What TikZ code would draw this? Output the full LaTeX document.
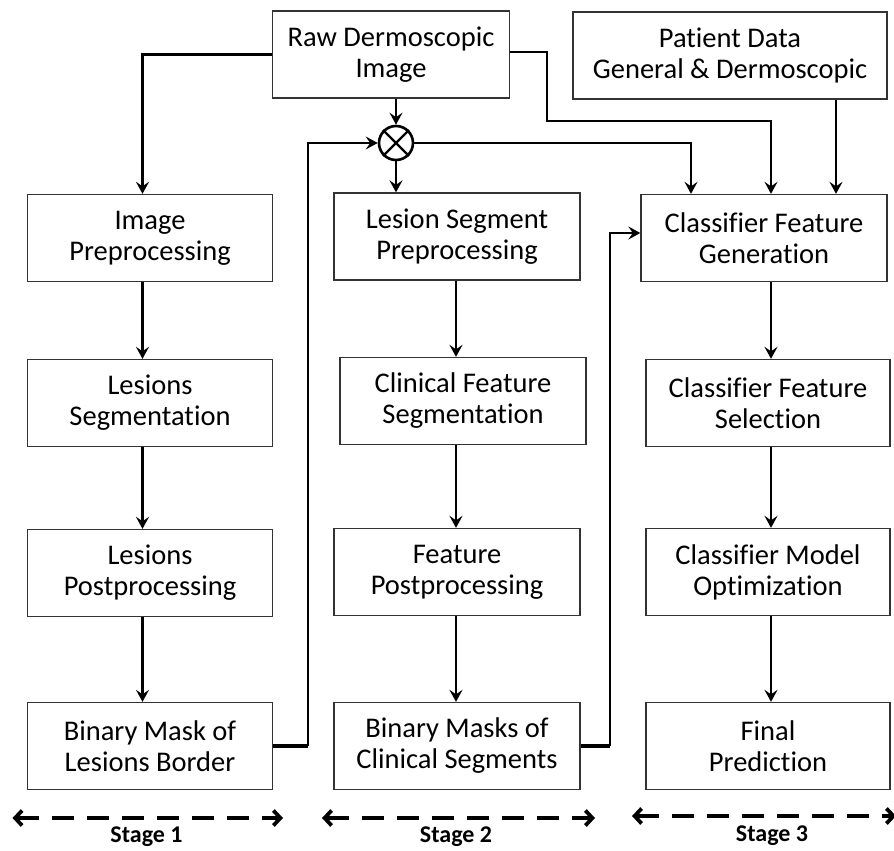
\documentclass[tikz,border=0pt]{standalone}
\usepackage{fontspec}
\setmainfont{Carlito}[Ligatures=NoCommon]
\usetikzlibrary{arrows.meta,calc}
\tikzset{
  box/.style={draw=black!80, line width=1.3bp, align=center, inner sep=0pt,
    minimum width=245bp, minimum height=87bp,
    font=\fontsize{28.5bp}{31bp}\selectfont},
  arr/.style={line width=2.8bp, -{Stealth[length=12bp,width=13bp,inset=4.5bp]}},
  thick stub/.style={line width=4.2bp},
  stagearr/.style={line width=3.8bp, dash pattern=on 22bp off 13bp,
    {Straight Barb[length=7bp,width=15bp]}-{Straight Barb[length=7bp,width=15bp]}},
  stagelbl/.style={font=\fontsize{24bp}{26bp}\selectfont\bfseries, inner sep=0pt},
}
\begin{document}
\begin{tikzpicture}[x=1bp,y=-1bp]
\useasboundingbox (0,0) rectangle (894,851);
% boxes
\node[box, minimum width=237bp] (raw) at (391,54.5) {Raw Dermoscopic\\Image};
\node[box, minimum width=314bp] (patient) at (730,55.5) {Patient Data\\General \& Dermoscopic};
\node[box] (imgpre) at (150,238) {Image\\Preprocessing};
\node[box, minimum width=246bp] (lsp) at (457,236.5) {Lesion Segment\\Preprocessing};
\node[box, minimum width=246bp] (cfg) at (764,238) {Classifier Feature\\Generation};
\node[box] (lseg) at (150,403) {Lesions\\Segmentation};
\node[box, minimum width=246bp] (cfs) at (463,401) {Clinical Feature\\Segmentation};
\node[box, minimum width=244bp] (cfsel) at (768,403) {Classifier Feature\\Selection};
\node[box] (lpost) at (150,573) {Lesions\\Postprocessing};
\node[box, minimum width=246bp] (fpost) at (457,572) {Feature\\Postprocessing};
\node[box, minimum width=244bp] (cmo) at (768,572) {Classifier Model\\Optimization};
\node[box] (bm1) at (150,746) {Binary Mask of\\Lesions Border};
\node[box, minimum width=246bp] (bm2) at (457,746) {Binary Masks of\\Clinical Segments};
\node[box, minimum width=244bp] (fp) at (768,746) {Final\\Prediction};
% mixer
\node[draw, circle, line width=2.6bp, minimum size=34bp, inner sep=0pt] (mix) at (396,143) {};
\draw[line width=2.4bp] (mix.north west) -- (mix.south east) (mix.north east) -- (mix.south west);
% column coordinates
\coordinate (c1) at (142.5,0);
\coordinate (c2) at (456,0);
\coordinate (c3) at (771,0);
\coordinate (cm) at (691,0);
\coordinate (cp) at (836,0);
\coordinate (rb1) at (547,121);
\coordinate (v1) at (308,0);
\coordinate (v2) at (610,0);
% connectors
\draw[arr] (raw.west) -| (imgpre.north -| c1);
\draw[arr] (raw.south -| mix) -- (mix.north);
\draw[arr] (mix.south) -- (lsp.north -| mix);
\draw[arr] (mix.east) -| (cfg.north -| cm);
\draw[arr] ([yshift=2.5bp]raw.east) -| (rb1) -| (cfg.north -| c3);
\draw[arr] (patient.south -| cp) -- (cfg.north -| cp);
\draw[arr] (imgpre.south -| c1) -- (lseg.north -| c1);
\draw[arr] (lseg.south -| c1) -- (lpost.north -| c1);
\draw[arr] (lpost.south -| c1) -- (bm1.north -| c1);
\draw[arr] (lsp.south -| c2) -- (cfs.north -| c2);
\draw[arr] (cfs.south -| c2) -- (fpost.north -| c2);
\draw[arr] (fpost.south -| c2) -- (bm2.north -| c2);
\draw[arr] (cfg.south -| c3) -- (cfsel.north -| c3);
\draw[arr] (cfsel.south -| c3) -- (cmo.north -| c3);
\draw[arr] (cmo.south -| c3) -- (fp.north -| c3);
% feedback lines
\draw[thick stub] (bm1.east) -- (bm1.east -| v1);
\draw[arr] (bm1.east -| v1) -- (mix.west -| v1) -- (mix.west);
\draw[thick stub] (bm2.east) -- (bm2.east -| v2);
\draw[arr] (bm2.east -| v2) -- ([yshift=5bp]cfg.west -| v2) -- ([yshift=5bp]cfg.west);
% stages
\coordinate (s1a) at (12.5,818); \coordinate (s1b) at (283,818);
\coordinate (s2a) at (322,818); \coordinate (s2b) at (595,818);
\coordinate (s3a) at (632,816); \coordinate (s3b) at (896,816);
\draw[stagearr] (s1a) -- (s1b);
\draw[stagearr] (s2a) -- (s2b);
\draw[stagearr] (s3a) -- (s3b);
\node[stagelbl] (st1) at (146.5,837) {Stage 1};
\node[stagelbl] (st2) at (456,837) {Stage 2};
\node[stagelbl] (st3) at (772,836) {Stage 3};
\end{tikzpicture}
\end{document}
